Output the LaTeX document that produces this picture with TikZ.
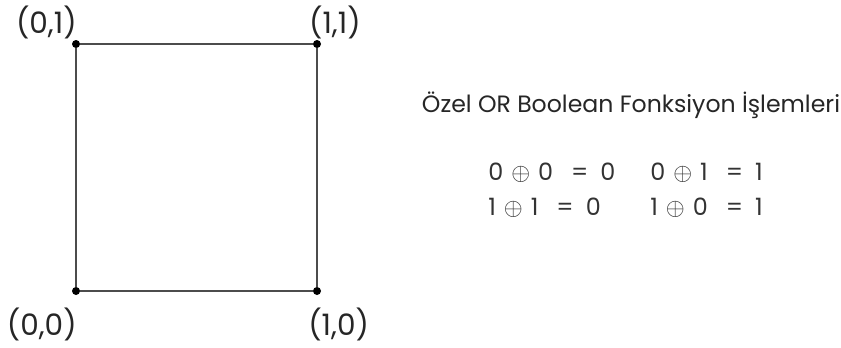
\documentclass[tikz,border=0pt]{standalone}
\usepackage{fontspec}
\setmainfont{Poppins}
\usetikzlibrary{positioning}

\newcommand{\xorrow}[3]{#1\hspace{0.2cm}$\oplus$\hspace{0.2cm}#2\hspace{0.45cm}=\hspace{0.3cm}#3}

\begin{document}
\begin{tikzpicture}[
  node distance=0.3cm,
  dot/.style={circle, fill=black, inner sep=0pt, minimum size=0.2cm},
  edge/.style={draw=black!70, line width=1.3pt},
  lbl/.style={inner sep=0pt, font=\fontsize{21}{24}\selectfont, text=black!85},
  eq/.style={inner sep=0pt, anchor=west, font=\fontsize{17}{20}\selectfont, text=black!80}
]
  \useasboundingbox (0,0) rectangle (21.025,-8.675);

  % corners of the square
  \node[dot] (p01) at (1.9,-1.1) {};
  \node[dot] (p11) at (7.925,-1.1) {};
  \node[dot] (p00) at (1.9,-7.275) {};
  \node[dot] (p10) at (7.925,-7.275) {};

  \draw[edge] (p01) -- (p11) -- (p10) -- (p00) -- (p01);

  \node[lbl, above left=0.05cm and -0.1cm of p01] (l01) {(0,1)};
  \node[lbl, above right=0.05cm and -0.28cm of p11] (l11) {(1,1)};
  \node[lbl, below left=0.35cm and -0.1cm of p00] (l00) {(0,0)};
  \node[lbl, below right=0.35cm and -0.3cm of p10] (l10) {(1,0)};

  % XOR table
  \node[inner sep=0pt, font=\fontsize{16.8}{19}\selectfont, text=black!85] (title) at (15.775,-2.625)
    {Özel OR Boolean Fonksiyon İşlemleri};
  \node[eq] (e00) at (12.2,-4.325) {\xorrow{0}{0}{0}};
  \node[eq] (e01) at (16.25,-4.325) {\xorrow{0}{1}{1}};
  \node[eq] (e11) at (12.2,-5.2) {\xorrow{1}{1}{0}};
  \node[eq] (e10) at (16.25,-5.2) {\xorrow{1}{0}{1}};
\end{tikzpicture}
\end{document}
